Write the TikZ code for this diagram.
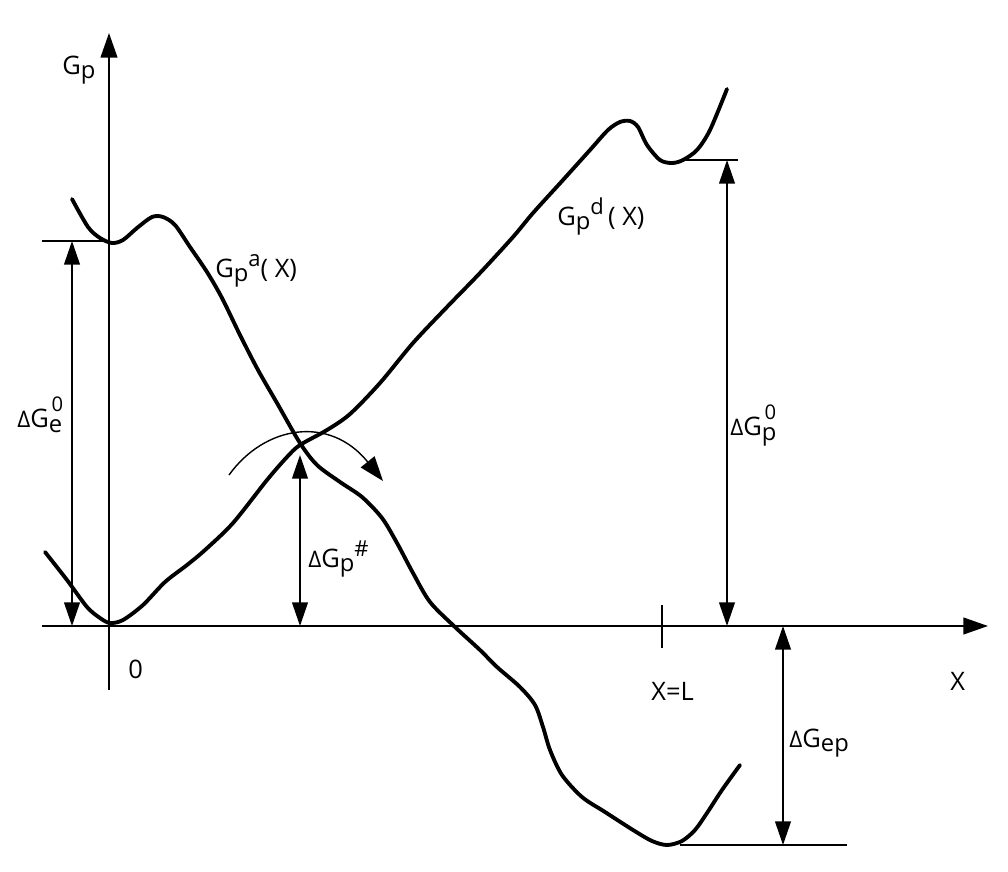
\documentclass[tikz,border=0pt]{standalone}
\usepackage{fontspec}
\setmainfont{Open Sans}
\usetikzlibrary{arrows.meta}
\newcommand\lsub[1]{\raisebox{-2.4pt}{\fontsize{13.5}{13.5}\selectfont #1}}
\newcommand\lsup[1]{\raisebox{6pt}{\fontsize{12.5}{12.5}\selectfont #1}}
\newcommand\dlt{{\fontsize{13}{13}\selectfont Δ}}
\newcommand\lsupsub[2]{\rlap{\hspace{1.5pt}\raisebox{9pt}{\fontsize{11.5}{11.5}\selectfont #1}}\raisebox{-3.4pt}{\fontsize{13.5}{13.5}\selectfont #2}}
\tikzset{
  axis/.style={line width=1.1pt,-{Triangle[length=14pt,width=9.5pt]}},
  curve/.style={line width=2.2pt,line join=round,line cap=round},
  dimarrow/.style={line width=1pt,{Triangle[length=13.5pt,width=9pt]}-{Triangle[length=13.5pt,width=9pt]}},
  thinline/.style={line width=1pt},
  lbl/.style={inner sep=0pt,anchor=base west,font=\fontsize{14.5}{14.5}\selectfont},
  turn/.style={line width=0.8pt,-{Triangle[length=14pt,width=10pt]}}
}
\begin{document}
\begin{tikzpicture}[x=0.02cm,y=-0.02cm]
\useasboundingbox (0,0) rectangle (1008,872);
% coordinates
\coordinate (ybot) at (109,690);
\coordinate (ytop) at (109,33);
\coordinate (xleft) at (42,626);
\coordinate (xright) at (988,626);
\coordinate (hlA) at (42,241);
\coordinate (hlB) at (109,241);
\coordinate (eTop) at (72,241);
\coordinate (eBot) at (72,626);
\coordinate (pTop) at (727,160);
\coordinate (pBot) at (727,626);
\coordinate (hrA) at (683,160);
\coordinate (hrB) at (738,160);
\coordinate (hTop) at (300,455);
\coordinate (hBot) at (300,626);
\coordinate (epTop) at (783,626);
\coordinate (epBot) at (783,845);
\coordinate (hbA) at (680,845);
\coordinate (hbB) at (847,845);
\coordinate (tkA) at (662,605);
\coordinate (tkB) at (662,648);
% axes
\draw[axis] (ybot) -- (ytop);
\draw[axis] (xleft) -- (xright);
\draw[thinline] (tkA) -- (tkB);
% reference lines
\draw[thinline] (hlA) -- (hlB);
\draw[thinline] (hrA) -- (hrB);
\draw[thinline] (hbA) -- (hbB);
% curve Gp^a
\draw[curve] plot[smooth,tension=0.5] coordinates {
 (72,199) (88,227) (100,238) (112,243) (123,240) (137,228) (152,217) (163,217)
 (175,225) (190,247) (207,272) (222,298) (240,335) (258,370) (277,403) (300,443)
 (317,465) (340,482) (362,497) (382,518) (397,543) (413,573) (430,602) (455,627)
 (480,650) (497,667) (520,687) (535,705) (543,727) (550,750) (562,775) (582,797)
 (605,812) (633,830) (652,841) (667,845) (682,841) (695,830) (707,813) (722,790) (740,765)};
% curve Gp^d
\draw[curve] plot[smooth,tension=0.5] coordinates {
 (45,552) (67,580) (87,607) (100,618) (110,623) (123,620) (143,605) (165,582)
 (187,565) (205,550) (233,523) (267,480) (287,457) (300,445) (327,430) (350,414)
 (380,383) (413,343) (447,307) (480,273) (513,237) (533,213) (563,180) (590,150)
 (608,130) (620,122) (630,121) (638,127) (647,145) (660,160) (672,163) (683,160)
 (697,150) (710,130) (727,89)};
% dimension arrows
\draw[dimarrow] (eBot) -- (eTop);
\draw[dimarrow] (pBot) -- (pTop);
\draw[dimarrow] (hBot) -- (hTop);
\draw[dimarrow] (epBot) -- (epTop);
% curved arrow over the crossing
\coordinate (tA) at (229,475);
\coordinate (tB) at (383,481);
\draw[turn] (tA) .. controls (265,425) and (330,415) .. (tB);
% labels
\node[lbl] (lGp) at (62,74) {G\lsub{p}};
\node[lbl] (lGa) at (215,277) {G\lsub{p}\lsup{a}( X)};
\node[lbl] (lGd) at (557,225) {G\lsub{p}\lsup{d}\,( X)};
\node[lbl] (lGh) at (308,567) {\dlt G\lsub{p}\lsup{\#}};
\node[lbl] (lGe) at (17,427) {\dlt G\lsupsub{0}{e}};
\node[lbl] (lGp0) at (730,435) {\dlt G\lsupsub{0}{p}};
\node[lbl] (lGep) at (789,747) {\dlt G\lsub{ep}};
\node[lbl] (lXL) at (651,700) {X=L};
\node[lbl] (lX) at (950,690) {X};
\node[lbl] (l0) at (128,678) {0};
\end{tikzpicture}
\end{document}
